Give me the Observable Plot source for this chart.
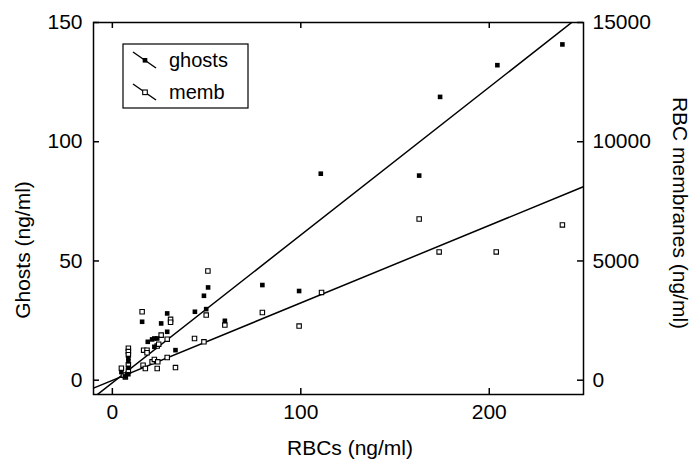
<!DOCTYPE html>
<html><head><meta charset="utf-8">
<script src="https://cdn.jsdelivr.net/npm/d3@7"></script>
<script src="https://cdn.jsdelivr.net/npm/@observablehq/plot@0.6"></script>
<style>body{margin:0;background:#fff}</style>
</head><body><div id="chart"></div>
<script>
// Ghosts (filled squares), left axis, ng/ml
const ghostsX = [4.8, 6.9, 8.5, 8.5, 8.5, 8.5, 15.8, 18.8, 21.1, 22.3, 23.8, 22.3, 25.9, 29.1, 29.1, 33.5, 43.8, 48.6, 49.8, 50.8, 59.7, 79.6, 99.1, 110.6, 162.8, 173.9, 204.3, 238.8];
const ghostsY = [3.4, 1.5, 9.3, 7.9, 5.2, 2.5, 24.5, 16.1, 17.1, 17.5, 17.5, 14, 23.8, 28, 20.3, 12.6, 28.7, 35.4, 29.8, 38.9, 24.9, 39.9, 37.4, 86.6, 85.8, 118.8, 132.1, 140.8];
// RBC membranes (open squares), right axis, ng/ml
const membX = [4.8, 5.9, 6.9, 8.5, 8.5, 8.5, 8.5, 8.5, 15.8, 16.6, 18.4, 18.4, 16.3, 17.5, 21.1, 22.3, 24.1, 23.8, 23.8, 24.6, 25.9, 29.1, 29.1, 30.9, 30.9, 33.5, 43.6, 48.6, 49.8, 50.7, 59.7, 79.6, 99.1, 111, 162.8, 173.4, 203.7, 238.8];
const membY = [500, 210, 130, 1340, 1200, 1070, 650, 380, 2870, 1260, 1260, 1150, 630, 490, 770, 870, 770, 490, 1430, 1510, 1890, 1720, 950, 2550, 2430, 530, 1750, 1610, 2730, 4580, 2310, 2840, 2270, 3680, 6760, 5380, 5380, 6510];
// fitted lines: slope, intercept
const ghostsFit = [0.62, -1.1];
const membFit = [32.5, -10];
const fitX = [-10, 250];
// ticks
const xTicks = [0, 100, 200];
const yTicks = [0, 50, 100, 150];
const yRightTicks = [0, 5000, 10000, 15000];
const seriesNames = ["ghosts", "memb"];

const W = 692, H = 468, ML = 93, MR = 109, MT = 22, MB = 74;
const pw = W - ML - MR, ph = H - MT - MB;
const font = "'Liberation Sans', Arial, Helvetica, sans-serif";
const ratio = yRightTicks[1] / yTicks[1];

const gData = ghostsX.map((x, i) => ({x, y: ghostsY[i]}));
const mData = membX.map((x, i) => ({x, y: membY[i] / ratio}));
const fitLine = (f, k) => fitX.map(x => ({x, y: (f[0] * x + f[1]) / k}));

const chart = Plot.plot({
  width: W, height: H,
  marginLeft: ML, marginRight: MR, marginTop: MT, marginBottom: MB,
  style: {fontFamily: font, fontSize: "21px", color: "#000", background: "#fff", overflow: "visible"},
  x: {domain: [-10, 250]},
  y: {domain: [-6, 150]},
  marks: [
    Plot.line(fitLine(ghostsFit, 1), {x: "x", y: "y", stroke: "#000", strokeWidth: 1.5, clip: true}),
    Plot.line(fitLine(membFit, ratio), {x: "x", y: "y", stroke: "#000", strokeWidth: 1.5, clip: true}),
    Plot.dot(mData, {x: "x", y: "y", symbol: "square", r: 2.5, fill: "#fff", stroke: "#000", strokeWidth: 1.1}),
    Plot.dot(gData, {x: "x", y: "y", symbol: "square", r: 2.6, fill: "#000", stroke: "none"}),
    Plot.frame({stroke: "#000", strokeWidth: 1.5}),
    Plot.tickX(xTicks, {x: d => d, insetTop: ph - 6, stroke: "#000", strokeWidth: 1.5}),
    Plot.tickX(xTicks, {x: d => d, insetBottom: ph - 6, stroke: "#000", strokeWidth: 1.5}),
    Plot.tickY(yTicks, {y: d => d, insetRight: pw - 6, stroke: "#000", strokeWidth: 1.5}),
    Plot.tickY(yTicks, {y: d => d, insetLeft: pw - 6, stroke: "#000", strokeWidth: 1.5}),
    Plot.axisX({ticks: xTicks, tickSize: 0, tickPadding: 10, label: null}),
    Plot.axisY({ticks: yTicks, anchor: "left", tickSize: 0, tickPadding: 11, label: null}),
    Plot.axisY({ticks: yTicks, anchor: "right", tickSize: 0, tickPadding: 9, label: null, tickFormat: d => String(d * ratio)})
  ]
});
document.getElementById("chart").appendChild(chart);

const svg = d3.select(chart);
const t = svg.append("g").attr("font-family", font).attr("fill", "#000");
t.append("text").attr("transform", "translate(22,250) rotate(-90)")
  .attr("text-anchor", "middle").attr("dominant-baseline", "central").attr("font-size", 21).text("Ghosts (ng/ml)");
t.append("text").attr("transform", "translate(680,213) rotate(90)")
  .attr("text-anchor", "middle").attr("dominant-baseline", "central").attr("font-size", 21).text("RBC membranes (ng/ml)");
t.append("text").attr("x", 350).attr("y", 447)
  .attr("text-anchor", "middle").attr("dominant-baseline", "central").attr("font-size", 21).text("RBCs (ng/ml)");

// legend
const lg = svg.append("g").attr("font-family", font);
lg.append("rect").attr("x", 123).attr("y", 44).attr("width", 125).attr("height", 64)
  .attr("fill", "#fff").attr("stroke", "#000").attr("stroke-width", 1.2);
seriesNames.forEach((name, i) => {
  const y0 = 60 + i * 32;
  lg.append("line").attr("x1", 133).attr("y1", y0 - 8).attr("x2", 156).attr("y2", y0 + 8)
    .attr("stroke", "#000").attr("stroke-width", 1.5);
  const s = 4.6;
  lg.append("rect").attr("x", 145 - s / 2).attr("y", y0 - s / 2 + 0.3).attr("width", s).attr("height", s)
    .attr("fill", i === 0 ? "#000" : "#fff").attr("stroke", i === 0 ? "none" : "#000").attr("stroke-width", 1.1);
  lg.append("text").attr("x", 169).attr("y", y0 + 7).attr("text-anchor", "start")
    .attr("font-size", 20).attr("fill", "#000").text(name);
});
</script>
</body></html>
